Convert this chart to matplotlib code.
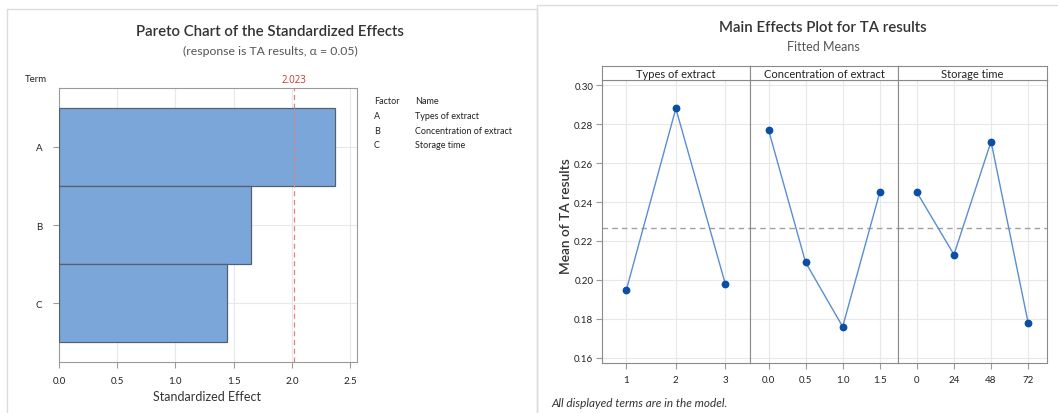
import matplotlib
matplotlib.use("Agg")
import matplotlib.pyplot as plt
from matplotlib.lines import Line2D
import numpy as np

plt.rcParams['font.family'] = ['Lato', 'DejaVu Sans']

# ---------------- data ----------------
pareto_terms = ['A', 'B', 'C']
pareto_effects = [2.37, 1.65, 1.44]
t_critical = 2.023
pareto_xticks = [0.0, 0.5, 1.0, 1.5, 2.0, 2.5]
factor_codes = ['A', 'B', 'C']
factor_names = ['Types of extract', 'Concentration of extract', 'Storage time']

type_levels = ['1', '2', '3']
type_means = [0.195, 0.288, 0.198]
conc_levels = ['0.0', '0.5', '1.0', '1.5']
conc_means = [0.277, 0.209, 0.176, 0.245]
storage_levels = ['0', '24', '48', '72']
storage_means = [0.245, 0.213, 0.271, 0.178]
grand_mean = 0.2268
mean_yticks = [0.16, 0.18, 0.20, 0.22, 0.24, 0.26, 0.28, 0.30]

W, H = 1058, 414
fig = plt.figure(figsize=(W / 100, H / 100), dpi=100)
fig.patch.set_facecolor('white')


def box(l, t, r, b):
    return [l / W, 1 - b / H, (r - l) / W, (b - t) / H]


def fx(x):
    return x / W


def fy(y):
    return 1 - y / H


TXT = '#333333'
SPINE = '#9a9a9a'
GRID = '#e8e8e8'

# panel borders
for xs, ys in [([7, 7, 537, 537], [414, 10, 10, 414]), ([537, 537, 1058], [414, 6, 6])]:
    fig.add_artist(Line2D([fx(v) for v in xs], [fy(v) for v in ys], color='#dcdcdc', lw=1.0))

# ---------------- Pareto chart ----------------
ax = fig.add_axes(box(59, 89, 357, 363))
ypos = np.arange(len(pareto_terms))
ax.barh(ypos, pareto_effects, height=1.0, color='#7ba6d9', edgecolor='#55606e', linewidth=0.9, zorder=3)
ax.set_ylim(len(pareto_terms) - 0.5 + 0.256, -0.5 - 0.256)
ax.set_xlim(0, 2.56)
ax.set_xticks(pareto_xticks)
ax.set_xticklabels([f'{v:.1f}' for v in pareto_xticks])
ax.set_yticks(ypos)
ax.set_yticklabels(pareto_terms)
ax.grid(True, color=GRID, lw=0.8, zorder=0)
ax.axvline(t_critical, color='#e08080', ls=(0, (4, 3)), lw=0.9, zorder=4)
ax.annotate(f'{t_critical:.3f}', xy=(t_critical, 1), xycoords=('data', 'axes fraction'),
            xytext=(0, 2), textcoords='offset points', ha='center', va='bottom',
            fontsize=7, color='#c0392b', family=['Open Sans', 'DejaVu Sans'])
for s in ax.spines.values():
    s.set_color(SPINE)
    s.set_linewidth(0.8)
ax.tick_params(axis='both', length=4, color=SPINE, labelsize=7, labelcolor='#222222', width=0.8)
ax.tick_params(axis='y', pad=8)
ax.tick_params(axis='x', pad=6)

fig.text(fx(25), fy(79), 'Term', fontsize=7, color='#222222', va='center', ha='left')
fig.text(fx(207), fy(397), 'Standardized Effect', fontsize=9, color=TXT, ha='center', va='center')
fig.text(fx(270), fy(32), 'Pareto Chart of the Standardized Effects', fontsize=10.8,
         color=TXT, ha='center', va='center', fontweight='semibold')
fig.text(fx(270), fy(51), '(response is TA results, \u03b1 = 0.05)', fontsize=8.8,
         color='#555555', ha='center', va='center')

# factor table
fig.text(fx(374), fy(101), 'Factor', fontsize=6.5, color='#222222', va='center')
fig.text(fx(415), fy(101), 'Name', fontsize=6.5, color='#222222', va='center')
for i, (c, n) in enumerate(zip(factor_codes, factor_names)):
    yy = 117 + i * 14.5
    fig.text(fx(374), fy(yy), c, fontsize=6.5, color='#222222', va='center')
    fig.text(fx(415), fy(yy), n, fontsize=6.5, color='#222222', va='center')

# ---------------- Main effects plot ----------------
panels = [
    ('Types of extract', type_levels, type_means),
    ('Concentration of extract', conc_levels, conc_means),
    ('Storage time', storage_levels, storage_means),
]
edges = [601.7, 750.0, 898.3, 1046.7]
LINE = '#5a8ed0'
MARK = '#0a4fa3'
for k, (name, levels, means) in enumerate(panels):
    l, r = edges[k], edges[k + 1]
    a = fig.add_axes(box(l, 81, r, 364))
    xs = np.arange(len(levels))
    a.plot(xs, means, color=LINE, lw=1.0, zorder=3)
    a.plot(xs, means, 'o', color=MARK, ms=4.6, zorder=4)
    a.axhline(grand_mean, color='#a0a0a0', ls=(0, (4, 3)), lw=1.0, zorder=2)
    a.set_xlim(-0.5, len(levels) - 0.5)
    a.set_ylim(0.1574, 0.3026)
    a.set_xticks(xs)
    a.set_xticklabels(levels)
    a.set_yticks(mean_yticks)
    a.grid(True, color=GRID, lw=0.8, zorder=0)
    for s in a.spines.values():
        s.set_color('#8a8a8a')
        s.set_linewidth(0.8)
    a.tick_params(axis='x', length=4, color=SPINE, labelsize=7, labelcolor='#222222', pad=5, width=0.8)
    if k == 0:
        a.set_yticklabels([f'{v:.2f}' for v in mean_yticks])
        a.tick_params(axis='y', length=4, color=SPINE, labelsize=7, labelcolor='#222222', pad=2, width=0.8)
    else:
        a.tick_params(axis='y', length=0, labelleft=False)
    # strip
    st = fig.add_axes(box(l, 66.7, r, 81))
    st.set_xticks([])
    st.set_yticks([])
    for s in st.spines.values():
        s.set_color('#8a8a8a')
        s.set_linewidth(0.8)
    st.text(0.5, 0.42, name, transform=st.transAxes, ha='center', va='center',
            fontsize=8, color='#222222')

fig.text(fx(566), fy(216), 'Mean of TA results', rotation=90, fontsize=9.9, color=TXT,
         ha='center', va='center', fontweight='semibold')
fig.text(fx(823), fy(28), 'Main Effects Plot for TA results', fontsize=10.8, color=TXT,
         ha='center', va='center', fontweight='semibold')
fig.text(fx(823), fy(47), 'Fitted Means', fontsize=9, color='#555555', ha='center', va='center')
fig.text(fx(551), fy(404), 'All displayed terms are in the model.', fontsize=8.5, style='italic',
         color=TXT, ha='left', va='center')

fig.savefig('out.png', dpi=100, facecolor='white')
